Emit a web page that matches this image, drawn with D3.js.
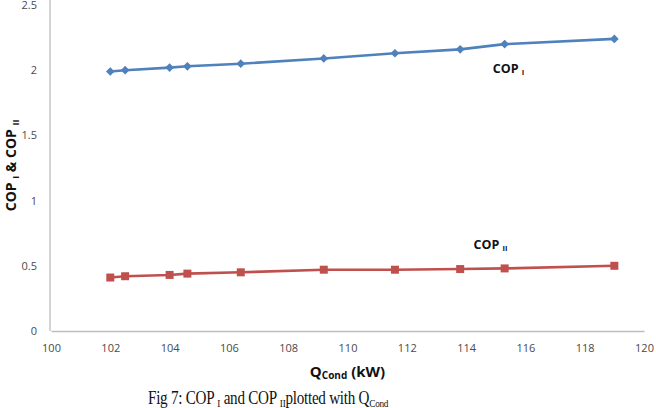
<!DOCTYPE html>
<html>
<head>
<meta charset="utf-8">
<script src="https://cdn.jsdelivr.net/npm/d3@7"></script>
<style>
  html, body { margin: 0; padding: 0; background: #fff; }
  svg { display: block; }
</style>
</head>
<body>
<div id="chart"></div>
<script>
// Data
const qCond = [102.0, 102.5, 104.0, 104.6, 106.4, 109.2, 111.6, 113.8, 115.3, 119.0];
const copI = [1.99, 2.0, 2.02, 2.03, 2.05, 2.09, 2.13, 2.16, 2.2, 2.24];
const copII = [0.41, 0.42, 0.43, 0.44, 0.45, 0.47, 0.47, 0.475, 0.48, 0.5];
const xTicks = [100, 102, 104, 106, 108, 110, 112, 114, 116, 118, 120];
const yTicks = [0, 0.5, 1, 1.5, 2, 2.5];

const width = 656, height = 408;

const svg = d3.select("#chart").append("svg")
    .attr("width", width)
    .attr("height", height);

// Scales
const x = d3.scaleLinear().domain([100, 120]).range([51, 644]);
const y = d3.scaleLinear().domain([0, 2.5]).range([331, 5]);

const tickFont = "'Open Sans', sans-serif";

// X axis
const xAxis = svg.append("g")
    .attr("transform", `translate(0,${y(0)})`)
    .call(d3.axisBottom(x).tickValues(xTicks).tickSize(0).tickPadding(13));
xAxis.select(".domain").attr("stroke", "#bdbdbd").attr("stroke-width", 1.3);
xAxis.selectAll("text")
    .attr("font-family", tickFont)
    .attr("font-size", "11px")
    .attr("fill", "#4a4a4a");

// Y axis (line runs to the top edge like the source)
const yAxis = svg.append("g")
    .attr("transform", `translate(${x(100) - 1},0)`)
    .call(d3.axisLeft(y).tickValues(yTicks).tickFormat(d => d).tickSize(0).tickPadding(13));
yAxis.select(".domain")
    .attr("d", `M0,${y(0)}V0`)
    .attr("stroke", "#bdbdbd").attr("stroke-width", 1.3);
yAxis.selectAll("text")
    .attr("font-family", tickFont)
    .attr("font-size", "11px")
    .attr("fill", "#4a4a4a");

// Series
const series = [
    { name: "COP I", values: copI, color: "#4f81bd", marker: d3.symbolSquare, size: 38, rot: 45 },
    { name: "COP II", values: copII, color: "#c0504d", marker: d3.symbolSquare, size: 64, rot: 0 }
];

const line = d3.line()
    .x(d => x(d[0]))
    .y(d => y(d[1]));

series.forEach(s => {
    const pts = qCond.map((q, i) => [q, s.values[i]]);
    svg.append("path")
        .datum(pts)
        .attr("d", line)
        .attr("fill", "none")
        .attr("stroke", s.color)
        .attr("stroke-width", 2.6);
    svg.append("g")
        .selectAll("path")
        .data(pts)
        .enter()
        .append("path")
        .attr("transform", d => `translate(${x(d[0])},${y(d[1])}) rotate(${s.rot})`)
        .attr("d", d3.symbol().type(s.marker).size(s.size))
        .attr("fill", s.color);
});

// Series labels
function copLabel(px, py, sub) {
    const t = svg.append("text")
        .attr("x", px)
        .attr("y", py)
        .attr("font-family", tickFont)
        .attr("font-weight", "bold")
        .attr("font-size", "12.5px")
        .attr("fill", "#111");
    t.append("tspan").text("COP ");
    t.append("tspan").attr("font-size", "7.5px").attr("dy", 2).text(sub);
}
copLabel(x(114.9), y(1.98), "I");
copLabel(x(114.25), y(0.63), "II");

// Y axis title
const yTitle = svg.append("text")
    .attr("transform", `translate(16,${y(1.27)}) rotate(-90)`)
    .attr("text-anchor", "middle")
    .attr("font-family", tickFont)
    .attr("font-weight", "bold")
    .attr("font-size", "14px")
    .attr("fill", "#111");
yTitle.append("tspan").text("COP ");
yTitle.append("tspan").attr("font-size", "9px").attr("dy", 3).text("I");
yTitle.append("tspan").attr("dy", -3).text(" & COP ");
yTitle.append("tspan").attr("font-size", "9px").attr("dy", 3).text("II");

// X axis title
const xTitle = svg.append("text")
    .attr("x", x(110))
    .attr("y", 377)
    .attr("text-anchor", "middle")
    .attr("font-family", tickFont)
    .attr("font-weight", "bold")
    .attr("font-size", "15px")
    .attr("fill", "#111");
xTitle.append("tspan").text("Q");
xTitle.append("tspan").attr("font-size", "10px").attr("dy", 2).text("Cond");
xTitle.append("tspan").attr("dy", -2).text(" (kW)");

// Caption (condensed serif)
const caption = svg.append("g")
    .attr("transform", "translate(148,404) scale(0.84,1)")
    .append("text")
    .attr("font-family", "'Liberation Serif', 'DejaVu Serif', serif")
    .attr("font-size", "18px")
    .attr("letter-spacing", "-0.3px")
    .attr("fill", "#111");
caption.append("tspan").text("Fig 7: COP ");
caption.append("tspan").attr("font-size", "11px").attr("dy", 3).text("I");
caption.append("tspan").attr("dy", -3).text(" and COP ");
caption.append("tspan").attr("font-size", "11px").attr("dy", 3).text("II");
caption.append("tspan").attr("dy", -3).text("plotted with Q");
caption.append("tspan").attr("font-size", "11px").attr("dy", 3).text("Cond");
</script>
</body>
</html>
